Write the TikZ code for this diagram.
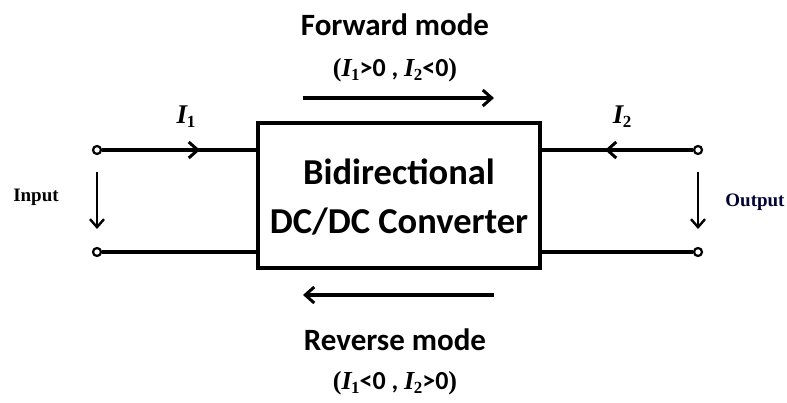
\documentclass[tikz,border=0pt]{standalone}
\usepackage{fontspec}
\setmainfont{Carlito}
\newfontfamily\serifb{Liberation Serif}
\usetikzlibrary{arrows.meta}
\newcommand{\cI}[1]{{\serifb\bfseries\itshape I}\kern-0.5pt\raisebox{-4pt}{\fontsize{17}{18}\selectfont\serifb\bfseries #1}}
\begin{document}
\begin{tikzpicture}[x=1pt,y=-1pt,
  wire/.style={line width=3.5pt},
  term/.style={circle,draw,line width=2.2pt,fill=white,minimum size=8pt,inner sep=0pt},
  cur/.style={line width=3.5pt,-{Straight Barb[length=9pt,width=16pt,line width=3pt]}},
  vol/.style={line width=2.8pt,-{Straight Barb[length=8pt,width=14pt,line width=2.4pt]}},
  big/.style={font=\fontsize{36.5}{42}\selectfont\bfseries},
  mode/.style={font=\fontsize{31}{36}\selectfont\bfseries},
  cond/.style={font=\fontsize{26}{30}\selectfont\bfseries},
  side/.style={font=\serifb\fontsize{19}{21}\selectfont\bfseries}]
\useasboundingbox (0,0) rectangle (787,403);
\node[draw,line width=3.5pt,minimum width=282pt,minimum height=145pt,inner sep=0pt] (box) at (399,195.5) {};
\node[big] (t1) at (399,172) {Bidirectional};
\node[big] (t2) at (399,222) {DC/DC Converter};
% terminals
\node[term] (inA) at (97,150) {};
\node[term] (inB) at (97,252) {};
\node[term] (outA) at (698,150) {};
\node[term] (outB) at (698,252) {};
\coordinate (bLA) at (box.west |- inA);
\coordinate (bLB) at (box.west |- inB);
\coordinate (bRA) at (box.east |- outA);
\coordinate (bRB) at (box.east |- outB);
\draw[wire] (inA) -- (bLA);
\draw[wire] (inB) -- (bLB);
\draw[wire] (outA) -- (bRA);
\draw[wire] (outB) -- (bRB);
% current arrows on wires
\coordinate (c1s) at (150,150);
\coordinate (c1e) at (200,150);
\draw[cur] (c1s) -- (c1e);
\coordinate (c2s) at (650,150);
\coordinate (c2e) at (605,150);
\draw[cur] (c2s) -- (c2e);
\node[font=\fontsize{27}{30}\selectfont] (I1) at (186,117) {\cI{1}};
\node[font=\fontsize{27}{30}\selectfont] (I2) at (622,117) {\cI{2}};
% voltage arrows
\coordinate (v1s) at (97,172);
\coordinate (v1e) at (97,229);
\draw[vol] (v1s) -- (v1e);
\coordinate (v2s) at (698,172);
\coordinate (v2e) at (698,229);
\draw[vol] (v2s) -- (v2e);
\node[side] (inL) at (36,197) {Input};
\node[side,text=black!80!blue] (outL) at (755,202) {Output};
% mode arrows
\coordinate (fs) at (303,98);
\coordinate (fe) at (494,98);
\draw[cur] (fs) -- (fe);
\coordinate (rs) at (494,295);
\coordinate (re) at (303,295);
\draw[cur] (rs) -- (re);
\node[mode] (fm) at (395,25) {Forward mode};
\node[mode] (rm) at (395,340) {Reverse mode};
\node[cond] (fc) at (395,70) {{\serifb (}\cI{1}>0 , \cI{2}<0{\serifb )}};
\node[cond] (rc) at (395,383) {{\serifb (}\cI{1}<0 , \cI{2}>0{\serifb )}};
\end{tikzpicture}
\end{document}
